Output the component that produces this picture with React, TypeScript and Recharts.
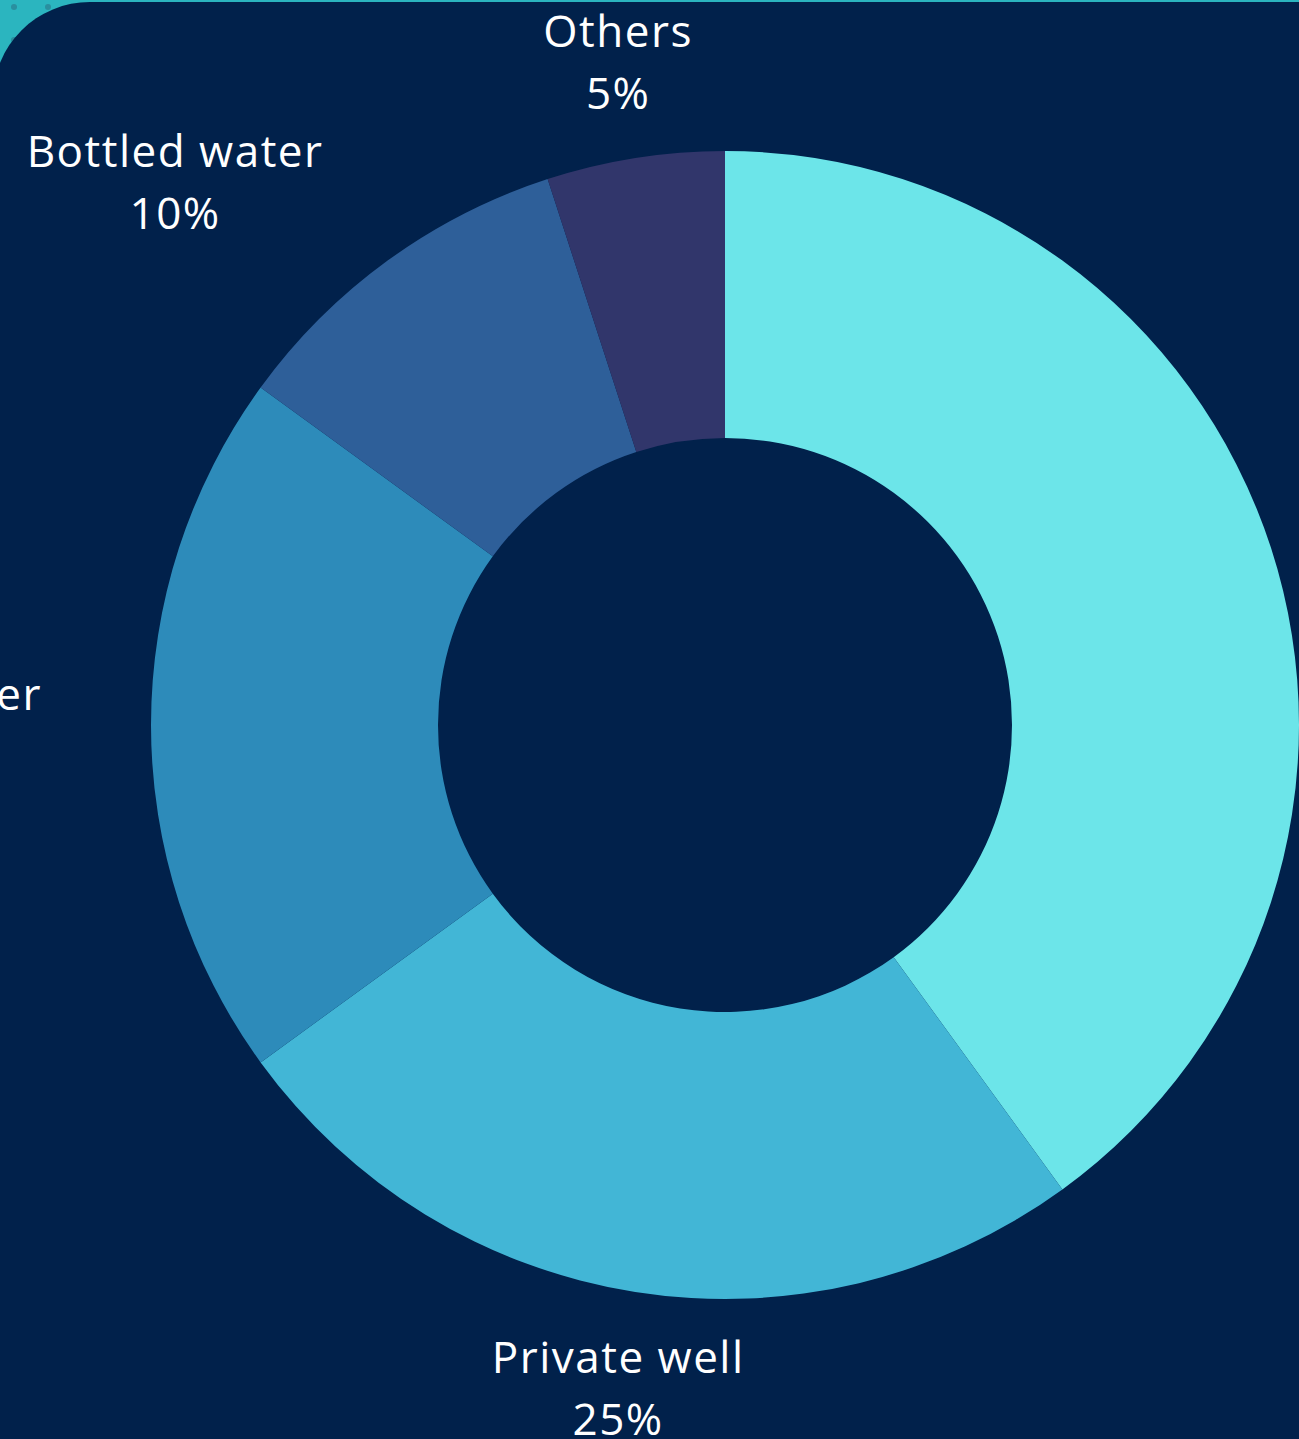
import { PieChart, Pie, Cell } from 'recharts';

const sources = ['Municipal water', 'Private well', 'Surface water', 'Bottled water', 'Others'];
const shares = [40, 25, 20, 10, 5];
const colors = ['#6ce5e9', '#42b6d6', '#2d8bba', '#2e5f99', '#31366b'];

const data = sources.map((name, i) => ({ name, value: shares[i] }));

const FONT = '"Open Sans", sans-serif';
const FONT_SIZE = 44;
const SPACING = 1.5;
const RADIAN = Math.PI / 180;

let ctx: CanvasRenderingContext2D | null = null;
const textWidth = (s: string) => {
  if (!ctx) ctx = document.createElement('canvas').getContext('2d');
  if (!ctx) return s.length * FONT_SIZE * 0.6;
  ctx.font = `${FONT_SIZE}px ${FONT}`;
  return ctx.measureText(s).width + s.length * SPACING;
};

// label box sits next to an anchor point outside the ring; side labels hug it with their inner edge
const renderLabel = (props: any) => {
  const { cx, cy, midAngle, outerRadius, name, value } = props;
  const pct = `${value}%`;
  const w = Math.max(textWidth(name), textWidth(pct));
  const cos = Math.cos(-midAngle * RADIAN);
  const sin = Math.sin(-midAngle * RADIAN);
  const ax = cx + (outerRadius + 109) * cos;
  const y = cy + (outerRadius + 97) * sin;
  let x = ax;
  if (cos < -0.3) x = ax - w / 2;
  else if (cos > 0.3) x = ax + w / 2;
  return (
    <text x={x} y={y} fill="#ffffff" textAnchor="middle" fontFamily={FONT} fontSize={FONT_SIZE} letterSpacing={SPACING}>
      <tspan x={x} y={y - 15}>{name}</tspan>
      <tspan x={x} y={y + 47}>{pct}</tspan>
    </text>
  );
};

export default function App() {
  return (
    <div style={{ position: 'absolute', left: 0, top: 0, width: 1299, height: 1439, overflow: 'hidden', background: '#2bb5bf' }}>
      {[[14, 7], [48, 7], [14, 40]].map(([l, t], i) => (
        <div key={i} style={{ position: 'absolute', left: l - 3, top: t - 3, width: 6, height: 6, borderRadius: 3, background: '#2a8f9f' }} />
      ))}
      <div style={{ position: 'absolute', left: -7, top: 2, width: 1500, height: 1600, borderRadius: 97, background: '#01214b' }} />
      <div style={{ position: 'absolute', left: 0, top: 0 }}>
        <PieChart width={1450} height={1450} margin={{ top: 0, right: 0, bottom: 0, left: 0 }}>
          <Pie
            data={data}
            dataKey="value"
            nameKey="name"
            cx={725}
            cy={725}
            innerRadius={287}
            outerRadius={574}
            startAngle={90}
            endAngle={-270}
            stroke="none"
            label={renderLabel}
            labelLine={false}
            isAnimationActive={false}
          >
            {data.map((d, i) => (
              <Cell key={d.name} fill={colors[i]} />
            ))}
          </Pie>
        </PieChart>
      </div>
    </div>
  );
}
